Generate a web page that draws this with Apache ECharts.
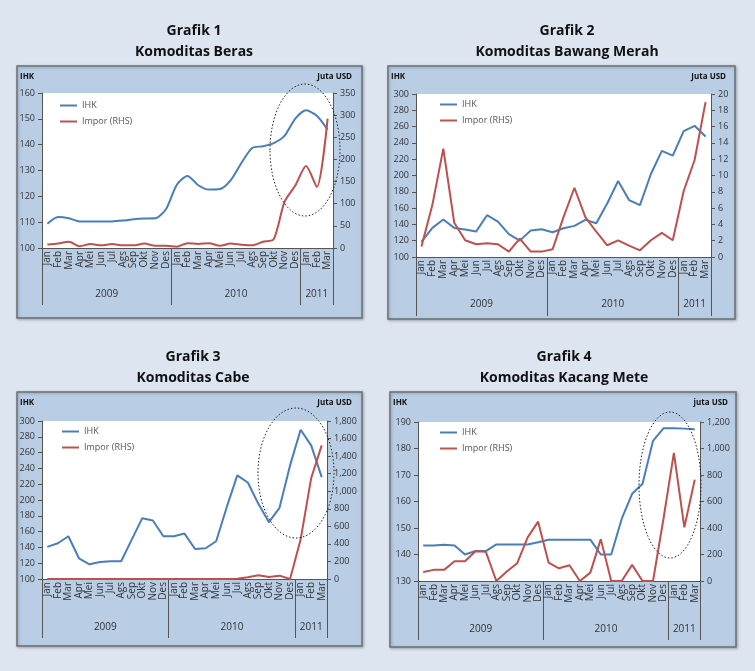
<!DOCTYPE html>
<html>
<head>
<meta charset="utf-8">
<script src="https://cdn.jsdelivr.net/npm/echarts@6/dist/echarts.min.js"></script>
<style>
  html, body { margin: 0; padding: 0; background: #dde5f0; }
  #chart { width: 755px; height: 671px; }
</style>
</head>
<body>
<div id="chart"></div>
<script>
// categories
const months = ['Jan', 'Feb', 'Mar', 'Apr', 'Mei', 'Jun', 'Jul', 'Ags', 'Sep', 'Okt', 'Nov', 'Des',
  'Jan', 'Feb', 'Mar', 'Apr', 'Mei', 'Jun', 'Jul', 'Ags', 'Sep', 'Okt', 'Nov', 'Des',
  'Jan', 'Feb', 'Mar']
const years = ['2009', '2010', '2011']
const yearStarts = [0, 12, 24, 27]
const yearMiddles = [6, 18, 25.5]

// Grafik 1 - Beras
const berasIhk = [109.4, 112, 111.5, 110.3, 110.3, 110.3, 110.3, 110.6, 111.1, 111.4, 111.5, 115,
  124.4, 127.9, 124.3, 122.6, 122.8, 126.2, 132.9, 138.7, 139.4, 140.6, 143.4, 150.1,
  153.3, 151.2, 145.8]
const berasImpor = [8, 10, 14, 4, 9, 6, 9, 6, 6, 10, 5, 5,
  3, 11, 9, 11, 5, 10, 7.5, 6, 14, 20, 104, 141,
  185, 138, 292]

// Grafik 2 - Bawang Merah
const bawangIhk = [118.5, 135.7, 146, 135.7, 133.7, 131.2, 151.3, 143.5, 128, 120.1, 132.4, 134.1,
  130.4, 135.3, 138.2, 145.6, 141.5, 165.7, 193.2, 169.8, 163.7, 201.8, 230.2, 224.4,
  254.4, 261, 247.8]
const bawangImpor = [1.3, 6.4, 13.3, 4.2, 2.05, 1.56, 1.7, 1.56, 0.66, 2.26, 0.66, 0.66,
  0.94, 4.9, 8.5, 4.9, 3.1, 1.44, 2.05, 1.4, 0.82, 2.05, 2.96, 2.05,
  8.1, 11.9, 19]

// Grafik 3 - Cabe
const cabeIhk = [140.6, 145.2, 154.1, 126.2, 118.6, 121.6, 122.4, 122.4, 149.9, 177, 174, 154.1,
  154.1, 157.5, 138, 138.9, 147.8, 190.9, 231.1, 222.2, 195.1, 171.9, 190.1, 243.8,
  289, 269.1, 229]
const cabeImpor = [0, 0, 0, 0, 0, 0, 0, 0, 0, 0, 0, 0,
  0, 0, 0, 0, 0, 0, 3, 19, 42, 23, 38, 0,
  449, 1149, 1522]

// Grafik 4 - Kacang Mete
const meteIhk = [143.4, 143.4, 143.7, 143.4, 140, 141.3, 141.3, 143.8, 143.8, 143.8, 143.8, 144.6,
  145.6, 145.6, 145.6, 145.6, 145.6, 140, 140, 153.4, 162.9, 166.7, 182.9, 187.6,
  187.6, 187.5, 187.3]
const meteImpor = [68, 84, 84, 149, 149, 225, 220, 0, 71, 134, 329, 448,
  139, 96, 119, 0, 63, 316, 0, 0, 122, 0, 0, 468,
  967, 405, 765]

// axis ranges [min, max, interval]
const berasLeft = [100, 160, 10]
const berasRight = [0, 350, 50]
const bawangLeft = [100, 300, 20]
const bawangRight = [0, 20, 2]
const cabeLeft = [100, 300, 20]
const cabeRight = [0, 1800, 200]
const meteLeft = [130, 190, 10]
const meteRight = [0, 1200, 200]

const FONT = 'Open Sans'
const BLUE = '#4a7ebb'
const RED = '#c0504d'
const AXIS = '#555'

const panels = [
  { title: 'Grafik 1', name: 'Komoditas Beras', unit: 'Juta USD', ihk: berasIhk, impor: berasImpor,
    left: berasLeft, right: berasRight, grid: [42, 93, 291, 155], box: [17, 66, 345, 252],
    cx: 194, tick: 26, sep: 57, ym: 41, unitX: 352, legend: [60, 101], smooth: 0.25 },
  { title: 'Grafik 2', name: 'Komoditas Bawang Merah', unit: 'Juta USD', ihk: bawangIhk, impor: bawangImpor,
    left: bawangLeft, right: bawangRight, grid: [416, 94, 295, 163], box: [388, 66, 347, 253],
    cx: 567, tick: 33, sep: 59, ym: 42, unitX: 726, legend: [440, 100], smooth: false },
  { title: 'Grafik 3', name: 'Komoditas Cabe', unit: 'Juta USD', ihk: cabeIhk, impor: cabeImpor,
    left: cabeLeft, right: cabeRight, grid: [42, 421, 285, 158], box: [17, 392, 345, 254],
    cx: 193, tick: 34, sep: 59, ym: 43, unitX: 352, legend: [62, 427], smooth: false },
  { title: 'Grafik 4', name: 'Komoditas Kacang Mete', unit: 'juta USD', ihk: meteIhk, impor: meteImpor,
    left: meteLeft, right: meteRight, grid: [418, 422, 282, 159], box: [390, 392, 346, 255],
    cx: 564, tick: 32, sep: 59, ym: 43, unitX: 728, legend: [440, 428], smooth: false }
]

const withComma = (v) => v.toLocaleString('en-US')

const grid = []
const xAxis = []
const yAxis = []
const series = []
const legend = []
const graphic = []

panels.forEach((p, i) => {
  grid.push({
    left: p.grid[0], top: p.grid[1], width: p.grid[2], height: p.grid[3],
    show: true, backgroundColor: '#fff', borderWidth: 0
  })
  // months
  xAxis.push({
    type: 'category', gridIndex: i, data: months, boundaryGap: true,
    axisLine: { lineStyle: { color: AXIS, width: 1 } },
    axisTick: { interval: 0, length: p.tick, lineStyle: { color: AXIS } },
    axisLabel: { interval: 0, rotate: 90, margin: 3, fontSize: 10, fontFamily: FONT, color: '#333' }
  })
  // years
  xAxis.push({
    type: 'value', gridIndex: i, position: 'bottom', min: 0, max: 27,
    axisLine: { show: false },
    splitLine: { show: false },
    axisTick: { show: true, customValues: yearStarts, length: p.sep, lineStyle: { color: AXIS } },
    axisLabel: {
      customValues: yearMiddles, margin: p.ym, fontSize: 10, fontFamily: FONT, color: '#333',
      formatter: (v) => years[yearMiddles.indexOf(v)]
    }
  })
  yAxis.push({
    type: 'value', gridIndex: i, position: 'left',
    min: p.left[0], max: p.left[1], interval: p.left[2],
    axisLine: { show: true, lineStyle: { color: AXIS } },
    axisTick: { show: true, length: 4, lineStyle: { color: AXIS } },
    splitLine: { show: false },
    axisLabel: { margin: 7, fontSize: 9, fontFamily: FONT, color: '#333' }
  })
  yAxis.push({
    type: 'value', gridIndex: i, position: 'right',
    min: p.right[0], max: p.right[1], interval: p.right[2],
    axisLine: { show: true, lineStyle: { color: AXIS } },
    axisTick: { show: true, length: 4, lineStyle: { color: AXIS } },
    splitLine: { show: false },
    axisLabel: { margin: 7, fontSize: 9, fontFamily: FONT, color: '#333', formatter: withComma }
  })
  series.push({
    name: 'IHK', type: 'line', xAxisIndex: i * 2, yAxisIndex: i * 2,
    data: p.ihk, symbol: 'none', smooth: p.smooth,
    lineStyle: { color: BLUE, width: 2 }, itemStyle: { color: BLUE }
  })
  series.push({
    name: 'Impor (RHS)', type: 'line', xAxisIndex: i * 2, yAxisIndex: i * 2 + 1,
    data: p.impor, symbol: 'none', smooth: p.smooth,
    lineStyle: { color: RED, width: 2 }, itemStyle: { color: RED }
  })
  legend.push({
    data: ['IHK', 'Impor (RHS)'], orient: 'vertical', left: p.legend[0], top: p.legend[1],
    padding: 0, itemGap: 7, icon: 'rect', itemWidth: 17, itemHeight: 2,
    textStyle: { fontSize: 9, fontFamily: FONT, color: '#555' }, selectedMode: false
  })

  // panel frame
  graphic.push({
    type: 'rect', z: -100,
    shape: { x: p.box[0], y: p.box[1], width: p.box[2], height: p.box[3] },
    style: { fill: '#b9cde5', stroke: '#6b6f75', lineWidth: 1.5,
      shadowBlur: 3, shadowOffsetX: 1, shadowOffsetY: 1, shadowColor: 'rgba(0,0,0,0.25)' }
  })
  graphic.push({
    type: 'text', z: 10,
    style: { text: p.title, x: p.cx, y: p.box[1] - 35, textAlign: 'center', textVerticalAlign: 'middle',
      font: 'bold 14px "' + FONT + '"', fill: '#111' }
  })
  graphic.push({
    type: 'text', z: 10,
    style: { text: p.name, x: p.cx, y: p.box[1] - 14, textAlign: 'center', textVerticalAlign: 'middle',
      font: 'bold 14px "' + FONT + '"', fill: '#111' }
  })
  graphic.push({
    type: 'text', z: 10,
    style: { text: 'IHK', x: p.box[0] + 3, y: p.box[1] + 11, textAlign: 'left', textVerticalAlign: 'middle',
      font: 'bold 8px "' + FONT + '"', fill: '#111' }
  })
  graphic.push({
    type: 'text', z: 10,
    style: { text: p.unit, x: p.unitX, y: p.box[1] + 11, textAlign: 'right', textVerticalAlign: 'middle',
      font: 'bold 8px "' + FONT + '"', fill: '#111' }
  })
})

// dotted highlight ellipses
const ellipses = [[305, 150, 35, 66], [296, 473, 38, 65], [670, 485, 31, 73]]
ellipses.forEach((e) => {
  graphic.push({
    type: 'ellipse', z: 100,
    shape: { cx: e[0], cy: e[1], rx: e[2], ry: e[3] },
    style: { fill: null, stroke: '#222', lineWidth: 1, lineDash: [1.5, 2] }
  })
})

const chart = echarts.init(document.getElementById('chart'))
chart.setOption({
  backgroundColor: '#dde5f0',
  animation: false,
  textStyle: { fontFamily: FONT },
  grid: grid,
  xAxis: xAxis,
  yAxis: yAxis,
  legend: legend,
  series: series,
  graphic: graphic
})
</script>
</body>
</html>
